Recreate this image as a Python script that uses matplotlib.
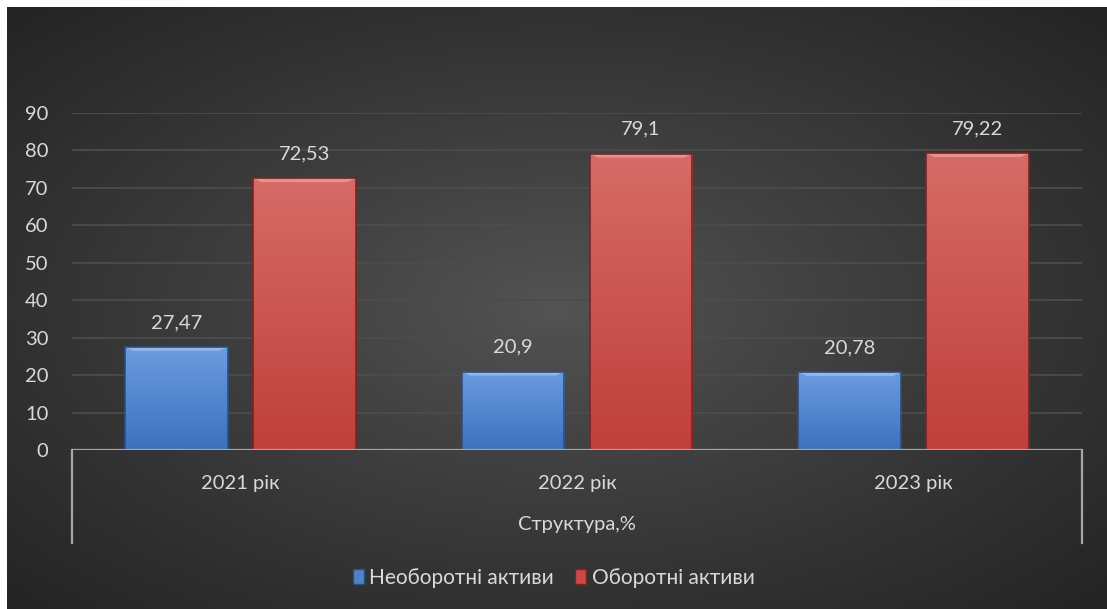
import numpy as np
import matplotlib as mpl
import matplotlib.pyplot as plt
from matplotlib.lines import Line2D
from matplotlib.patches import Patch

plt.rcParams['font.family'] = ['Lato', 'Noto Sans', 'DejaVu Sans']

categories = ["2021 рік", "2022 рік", "2023 рік"]
non_current = [27.47, 20.9, 20.78]
current = [72.53, 79.1, 79.22]
non_current_labels = ["27,47", "20,9", "20,78"]
current_labels = ["72,53", "79,1", "79,22"]
series_names = ["Необоротні активи", "Оборотні активи"]
group_title = "Структура,%"

W, H = 1107, 609
txt = "#d9d9d9"
fs = 14.5

fig = plt.figure(figsize=(W / 100, H / 100), dpi=100)
fig.patch.set_facecolor("white")

# radial gradient background
bg = fig.add_axes([7 / W, 0, 1 - 7 / W, 1 - 7 / H], zorder=0)
yy, xx = np.mgrid[-1:1:300j, -1:1:550j]
r = np.sqrt(xx ** 2 + yy ** 2) / np.sqrt(2)
shade = 0.33 - 0.19 * np.clip(r, 0, 1) ** 0.9
bg.imshow(np.dstack([shade] * 3), aspect="auto", extent=[0, 1, 0, 1])
bg.set_axis_off()

x0, x1 = 72, 1082
y0, ytop = 450, 113
ax = fig.add_axes([x0 / W, 1 - y0 / H, (x1 - x0) / W, (y0 - ytop) / H], zorder=1)
ax.patch.set_alpha(0)
ax.set_xlim(-0.5, 2.5)
ax.set_ylim(0, 90)
ax.set_yticks(range(0, 91, 10))
ax.set_xticks([])
ax.tick_params(axis="y", length=0, labelsize=fs, colors=txt, pad=17)
ax.grid(axis="y", color="#4c4c4c", lw=1.3)
ax.set_axisbelow(True)
for s in ax.spines.values():
    s.set_visible(False)

xs = np.arange(len(categories))
bw = 0.305
off = 0.19


def grad_bar(x, h, top_col, bot_col, edge):
    bar = ax.bar(x, h, bw, color="none", edgecolor=edge, lw=1.2, zorder=3)[0]
    t = np.linspace(0, 1, 100)[:, None]
    c0 = np.array(mpl.colors.to_rgb(top_col))
    c1 = np.array(mpl.colors.to_rgb(bot_col))
    img = (c0 * (1 - t) + c1 * t)[:, None, :].repeat(2, axis=1)
    im = ax.imshow(img, extent=[x - bw / 2, x + bw / 2, 0, h], aspect="auto", zorder=2)
    im.set_clip_path(bar)
    # top bevel
    bev = 1.0
    ax.fill([x - bw / 2, x + bw / 2, x + bw / 2 - 0.025, x - bw / 2 + 0.025],
            [h, h, h - bev, h - bev], color="white", alpha=0.28, lw=0, zorder=2.5)
    return bar


for i in xs:
    grad_bar(i - off, non_current[i], "#6b9ce0", "#3d71bd", "#2b4f80")
    grad_bar(i + off, current[i], "#d66b66", "#bf3f3b", "#7a2422")
    ax.text(i - off, non_current[i] + 4.3, non_current_labels[i], ha="center", va="bottom",
            color=txt, fontsize=fs)
    ax.text(i + off, current[i] + 4.3, current_labels[i], ha="center", va="bottom",
            color=txt, fontsize=fs)
    ax.text(i, -0.098, categories[i], transform=ax.get_xaxis_transform(), ha="center",
            va="center", color=txt, fontsize=fs)

ax.text(1, -0.222, group_title, transform=ax.get_xaxis_transform(), ha="center",
        va="center", color=txt, fontsize=fs)

axis_col = "#a6a6a6"
ax.axhline(0, color=axis_col, lw=1.6, zorder=4)
for xv in (-0.5, 2.5):
    ax.add_line(Line2D([xv, xv], [0, -0.276], transform=ax.get_xaxis_transform(),
                       color=axis_col, lw=1.6, clip_on=False))

handles = [Patch(facecolor="#4f82c8", edgecolor="#2b4f80"),
           Patch(facecolor="#c94a45", edgecolor="#7a2422")]
fig.legend(handles, series_names, loc="center", bbox_to_anchor=(0.5, 1 - 578 / H),
           ncol=2, frameon=False, fontsize=15, labelcolor=txt, handlelength=0.55,
           handleheight=0.75, handletextpad=0.25, columnspacing=1.0)

fig.savefig("out.png", dpi=100, facecolor=fig.get_facecolor())
